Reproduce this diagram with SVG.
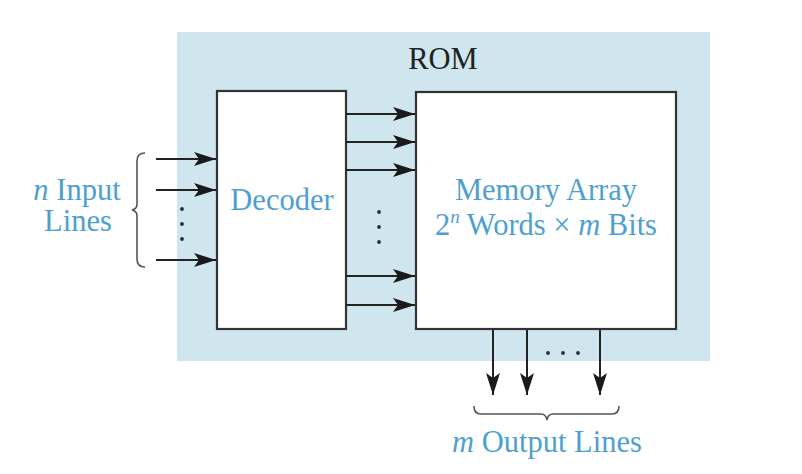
<svg xmlns="http://www.w3.org/2000/svg" width="802" height="474" viewBox="0 0 802 474">
<defs>
<style>
.t{font-family:"Liberation Serif","Times New Roman",serif;font-size:30.5px;fill:#4e9fd1;text-anchor:middle}
.box{fill:#fff;stroke:#333;stroke-width:2.2}
.ln{stroke:#222;stroke-width:2;fill:none}
.br{stroke:#555;stroke-width:1.6;fill:none}
.dot{fill:#2a2a40}
</style>
<marker id="ah" viewBox="0 0 22 14" refX="22" refY="7" markerWidth="22" markerHeight="14" markerUnits="userSpaceOnUse" orient="auto">
<path d="M0,0 L22,7 L0,14 L5,7 Z" fill="#1a1a1a"/>
</marker>
</defs>
<rect id="rom" x="177" y="32" width="533" height="329" fill="#d0e6ef"/>
<text class="t" x="443" y="69" style="fill:#222">ROM</text>
<g id="decoder">
<rect class="box" x="217" y="91" width="129" height="238"/>
<text class="t" x="282" y="210">Decoder</text>
</g>
<g id="memory">
<rect class="box" x="416" y="92" width="260" height="237"/>
<text class="t" x="546" y="200">Memory Array</text>
<text class="t" x="546" y="235">2<tspan font-style="italic" font-size="19" dy="-12">n</tspan><tspan dy="12"> Words × </tspan><tspan font-style="italic">m</tspan> Bits</text>
</g>
<g id="inputs">
<text class="t" x="77" y="200"><tspan font-style="italic">n</tspan> Input</text>
<text class="t" x="78" y="231">Lines</text>
<path class="br" d="M145,153 Q137,153 137,161 L137,204 Q137,209 132,210 Q137,211 137,216 L137,259 Q137,267 145,267"/>
</g>
<g id="connectors">
<line class="ln" x1="156" y1="159" x2="216" y2="159" marker-end="url(#ah)"/>
<line class="ln" x1="156" y1="190" x2="216" y2="190" marker-end="url(#ah)"/>
<line class="ln" x1="156" y1="260" x2="216" y2="260" marker-end="url(#ah)"/>
<line class="ln" x1="346" y1="114" x2="415" y2="114" marker-end="url(#ah)"/>
<line class="ln" x1="346" y1="142" x2="415" y2="142" marker-end="url(#ah)"/>
<line class="ln" x1="346" y1="170" x2="415" y2="170" marker-end="url(#ah)"/>
<line class="ln" x1="346" y1="276" x2="415" y2="276" marker-end="url(#ah)"/>
<line class="ln" x1="346" y1="305" x2="415" y2="305" marker-end="url(#ah)"/>
<line class="ln" x1="493" y1="330" x2="493" y2="395" marker-end="url(#ah)"/>
<line class="ln" x1="527" y1="330" x2="527" y2="395" marker-end="url(#ah)"/>
<line class="ln" x1="600" y1="330" x2="600" y2="395" marker-end="url(#ah)"/>
</g>
<g id="dots">
<circle class="dot" cx="182" cy="209" r="1.9"/>
<circle class="dot" cx="182" cy="224" r="1.9"/>
<circle class="dot" cx="182" cy="239" r="1.9"/>
<circle class="dot" cx="379" cy="212" r="1.9"/>
<circle class="dot" cx="379" cy="227" r="1.9"/>
<circle class="dot" cx="379" cy="242" r="1.9"/>
<circle class="dot" cx="548" cy="353" r="1.9"/>
<circle class="dot" cx="563" cy="353" r="1.9"/>
<circle class="dot" cx="578" cy="353" r="1.9"/>
</g>
<g id="outputs">
<path class="br" d="M474,406 Q474,414 481,414 L541,414 Q546,414 547,420 Q548,414 553,414 L612,414 Q619,414 619,406"/>
<text class="t" x="547" y="452"><tspan font-style="italic">m</tspan> Output Lines</text>
</g>
</svg>
